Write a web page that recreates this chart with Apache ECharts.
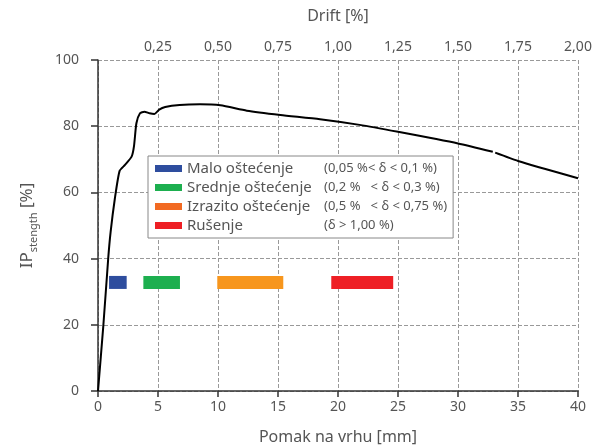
<!DOCTYPE html>
<html>
<head>
<meta charset="utf-8">
<script src="https://cdn.jsdelivr.net/npm/echarts@6/dist/echarts.min.js"></script>
<style>
html, body { margin: 0; padding: 0; background: #fff; }
#chart { width: 593px; height: 447px; }
</style>
</head>
<body>
<div id="chart"></div>
<script>
// krivulja kapaciteta: pomak [mm] i IP [%]
var pomak = [0, 0.45, 0.85, 1.05, 1.4, 1.8, 2.25, 2.8, 3.0, 3.2, 3.5, 3.86, 4.3, 4.7, 5.1, 5.6, 6.8, 8.5, 10.2, 12.4, 15.2, 18.5, 21.8, 25, 30, 32.9, 33.1, 35, 40];
var ipStrength = [0, 20, 40, 48, 58, 66.5, 68.3, 70.8, 74, 80.9, 83.9, 84.4, 83.9, 83.7, 85, 85.8, 86.4, 86.6, 86.3, 84.7, 83.4, 82.1, 80.4, 78.3, 74.8, 72.3, 72.0, 69.5, 64.3];
var gapAfter = 32.9; // mali prekid linije

// razine oštećenja
var stanja = ['Malo oštećenje', 'Srednje oštećenje', 'Izrazito oštećenje', 'Rušenje'];
var granice = ['(0,05 %< δ < 0,1 %)', '(0,2 %   < δ < 0,3 %)', '(0,5 %   < δ < 0,75 %)', '(δ > 1,00 %)'];
var pocetak = [0.92, 3.78, 9.94, 19.44];
var kraj = [2.39, 6.83, 15.44, 24.6];
var razina = [32.8, 32.8, 32.8, 32.8];
var bojeTraka = ['#2e4d9e', '#1daf4f', '#f7961d', '#ee1f25'];
var bojeLegende = ['#2e4d9e', '#1daf4f', '#f26a22', '#ee1f25'];

var driftTicks = [0.25, 0.5, 0.75, 1.0, 1.25, 1.5, 1.75, 2.0];

var font = 'Noto Sans';
var chart = echarts.init(document.getElementById('chart'));

var lineData = [];
for (var i = 0; i < pomak.length; i++) {
	lineData.push([pomak[i], ipStrength[i]]);
	if (pomak[i] === gapAfter) lineData.push([null, null]);
}

var series = [{
	name: 'IP',
	type: 'line',
	data: lineData,
	showSymbol: false,
	smooth: 0.2,
	connectNulls: false,
	lineStyle: { color: '#000', width: 2 },
	itemStyle: { color: '#000' },
	z: 5
}];

for (var k = 0; k < stanja.length; k++) {
	series.push({
		name: stanja[k],
		type: 'custom',
		data: [[pocetak[k], kraj[k], razina[k]]],
		itemStyle: { color: bojeTraka[k] },
		renderItem: function (params, api) {
			var p0 = api.coord([api.value(0), api.value(2)]);
			var p1 = api.coord([api.value(1), api.value(2)]);
			var h = 13;
			return {
				type: 'rect',
				shape: { x: p0[0], y: p0[1] - h / 2, width: p1[0] - p0[0], height: h },
				style: { fill: api.visual('color') }
			};
		}
	});
}

var legendData = [];
for (var j = 0; j < stanja.length; j++) {
	legendData.push({ name: stanja[j], itemStyle: { color: bojeLegende[j] } });
}

var gridLine = { show: true, lineStyle: { color: '#999', type: 'dashed', width: 1 } };

var option = {
	animation: false,
	backgroundColor: '#fff',
	textStyle: { fontFamily: font },
	grid: { left: 98, right: 15, top: 60, bottom: 56, outerBoundsMode: 'none', containLabel: false },
	legend: {
		data: legendData,
		orient: 'vertical',
		left: 148,
		top: 156,
		icon: 'rect',
		itemWidth: 27,
		itemHeight: 7,
		itemGap: 4,
		padding: [5, 6, 5, 7],
		borderColor: '#888',
		borderWidth: 1,
		backgroundColor: '#fff',
		selectedMode: false,
		formatter: function (name) {
			var idx = stanja.indexOf(name);
			return '{a|' + name + '}{b|' + granice[idx] + '}';
		},
		textStyle: {
			color: '#555',
			fontSize: 15,
			fontFamily: font,
			rich: {
				a: { width: 137, fontSize: 15, color: '#555', lineHeight: 18, fontFamily: font },
				b: { fontSize: 13, color: '#555', lineHeight: 18, fontFamily: font }
			}
		}
	},
	xAxis: [{
		type: 'value',
		min: 0,
		max: 40,
		interval: 5,
		position: 'bottom',
		name: 'Pomak na vrhu [mm]',
		nameLocation: 'middle',
		nameGap: 38,
		nameTextStyle: { color: '#555', fontSize: 16, fontFamily: font },
		axisLine: { lineStyle: { color: '#333', width: 1.5 } },
		axisTick: { show: true, length: 6, lineStyle: { color: '#333', width: 1.5 } },
		axisLabel: { color: '#555', fontSize: 14, margin: 9, fontFamily: font },
		splitLine: gridLine
	}, {
		type: 'value',
		min: 0,
		max: 2,
		interval: 0.25,
		position: 'top',
		name: 'Drift [%]',
		nameLocation: 'middle',
		nameGap: 36,
		nameTextStyle: { color: '#555', fontSize: 16, fontFamily: font },
		axisLine: { show: false },
		axisTick: { show: false },
		axisLabel: {
			color: '#555',
			fontSize: 14,
			margin: 6,
			fontFamily: font,
			formatter: function (v) {
				if (driftTicks.indexOf(v) < 0) return '';
				return v.toFixed(2).replace('.', ',');
			}
		},
		splitLine: { show: false }
	}],
	yAxis: {
		type: 'value',
		min: 0,
		max: 100,
		interval: 20,
		name: '{big|IP}{sub|stength}{big| [%]}',
		nameLocation: 'middle',
		nameGap: 56,
		nameRotate: 90,
		nameTextStyle: {
			color: '#555',
			fontSize: 17,
			fontFamily: font,
			rich: {
				big: { fontSize: 17, color: '#555', fontFamily: 'Noto Sans', padding: [0, 0, 6, 0] },
				sub: { fontSize: 11, color: '#555', fontFamily: 'Noto Sans', padding: [6, 0, 0, 0] }
			}
		},
		axisLine: { show: true, lineStyle: { color: '#333', width: 1.5 } },
		axisTick: { show: true, length: 7, lineStyle: { color: '#333', width: 1.5 } },
		axisLabel: { color: '#555', fontSize: 14, margin: 19, fontFamily: font },
		splitLine: gridLine
	},
	series: series
};

chart.setOption(option);
</script>
</body>
</html>
